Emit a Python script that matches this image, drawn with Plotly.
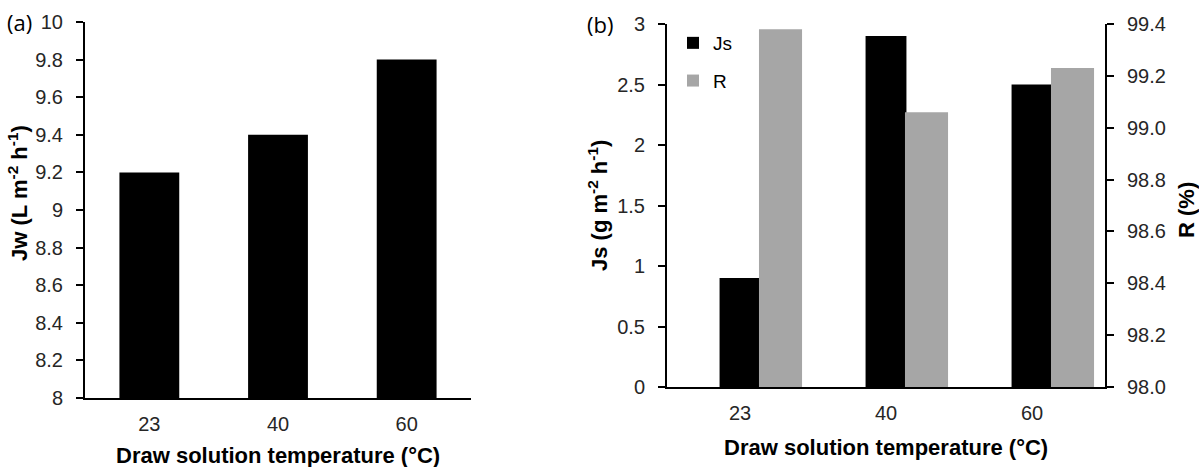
import plotly.graph_objects as go

# ---- data ----
categories = ["23", "40", "60"]
jw_values = [9.2, 9.4, 9.8]
js_values = [0.9, 2.9, 2.5]
r_values = [99.38, 99.06, 99.23]

W, H = 1199, 467
def px(x):
    return x / W
def py(y):
    return 1 - y / H

FONT = "Liberation Sans"
tick_font = dict(family=FONT, size=20, color="#262626")
title_font = dict(family=FONT, size=22, color="black")

fig = go.Figure()
fig.add_trace(go.Bar(x=categories, y=jw_values, xaxis="x", yaxis="y",
                     marker=dict(color="black", line=dict(width=0)),
                     width=0.465, showlegend=False))
fig.add_trace(go.Bar(x=categories, y=js_values, xaxis="x2", yaxis="y2",
                     marker=dict(color="black", line=dict(width=0)),
                     width=0.28, offset=-0.14, name="Js", legendgroup="js"))
fig.add_trace(go.Bar(x=categories, y=r_values, xaxis="x2", yaxis="y3",
                     marker=dict(color="#a6a6a6", line=dict(width=0)),
                     width=0.295, offset=0.13, name="R", legendgroup="r"))

axis_common = dict(showline=True, linecolor="black", linewidth=2, showgrid=False,
                   zeroline=False, tickfont=tick_font, automargin=False)
xcommon = dict(ticks="outside", ticklen=7, tickcolor="rgba(0,0,0,0)", **axis_common)
ycommon = dict(ticks="outside", ticklen=7, tickwidth=2, tickcolor="black",
               ticklabelstandoff=9, **axis_common)

fig.update_layout(
    width=W, height=H,
    margin=dict(l=0, r=0, t=0, b=0, pad=0, autoexpand=False),
    paper_bgcolor="white", plot_bgcolor="white",
    barmode="overlay",
    xaxis=dict(domain=[px(85), px(471)], anchor="y", **xcommon),
    yaxis=dict(domain=[py(398), py(22)], anchor="x", range=[8, 10], dtick=0.2, tick0=8,
               **ycommon),
    xaxis2=dict(domain=[px(667), px(1105)], anchor="y2", **xcommon),
    yaxis2=dict(domain=[py(387), py(24)], anchor="x2", range=[0, 3], dtick=0.5, tick0=0,
                **ycommon),
    yaxis3=dict(overlaying="y2", side="right", anchor="x2", range=[98, 99.4], dtick=0.2,
                tick0=98, tickformat=".1f", **ycommon),
    legend=dict(x=px(673), y=py(24), xanchor="left", yanchor="top",
                bgcolor="rgba(0,0,0,0)", font=dict(family=FONT, size=19, color="black"),
                tracegroupgap=10),
    annotations=[
        dict(text="(a)", x=px(5), y=py(22), xref="paper", yref="paper", xanchor="left",
             yanchor="middle", showarrow=False, font=dict(family="Open Sans", size=22, color="black")),
        dict(text="(b)", x=px(585), y=py(24), xref="paper", yref="paper", xanchor="left",
             yanchor="middle", showarrow=False, font=dict(family="Open Sans", size=22, color="black")),
        dict(text="<b>Jw (L m<sup>-2</sup> h<sup>-1</sup>)</b>", x=px(18), y=py(193), xref="paper",
             yref="paper", textangle=-90, showarrow=False, xanchor="center", yanchor="middle",
             font=title_font),
        dict(text="<b>Js (g m<sup>-2</sup> h<sup>-1</sup>)</b>", x=px(598), y=py(206), xref="paper",
             yref="paper", textangle=-90, showarrow=False, xanchor="center", yanchor="middle",
             font=title_font),
        dict(text="<b>R (%)</b>", x=px(1186), y=py(210), xref="paper",
             yref="paper", textangle=-90, showarrow=False, xanchor="center", yanchor="middle",
             font=title_font),
        dict(text="<b>Draw solution temperature (°C)</b>", x=px(278), y=py(455), xref="paper",
             yref="paper", showarrow=False, xanchor="center", yanchor="middle",
             font=title_font),
        dict(text="<b>Draw solution temperature (°C)</b>", x=px(886), y=py(447), xref="paper",
             yref="paper", showarrow=False, xanchor="center", yanchor="middle",
             font=title_font),
    ],
)

fig.write_html("out.html", config={"displayModeBar": False},
               post_script="document.body.style.margin='0';document.body.style.overflow='hidden';")
